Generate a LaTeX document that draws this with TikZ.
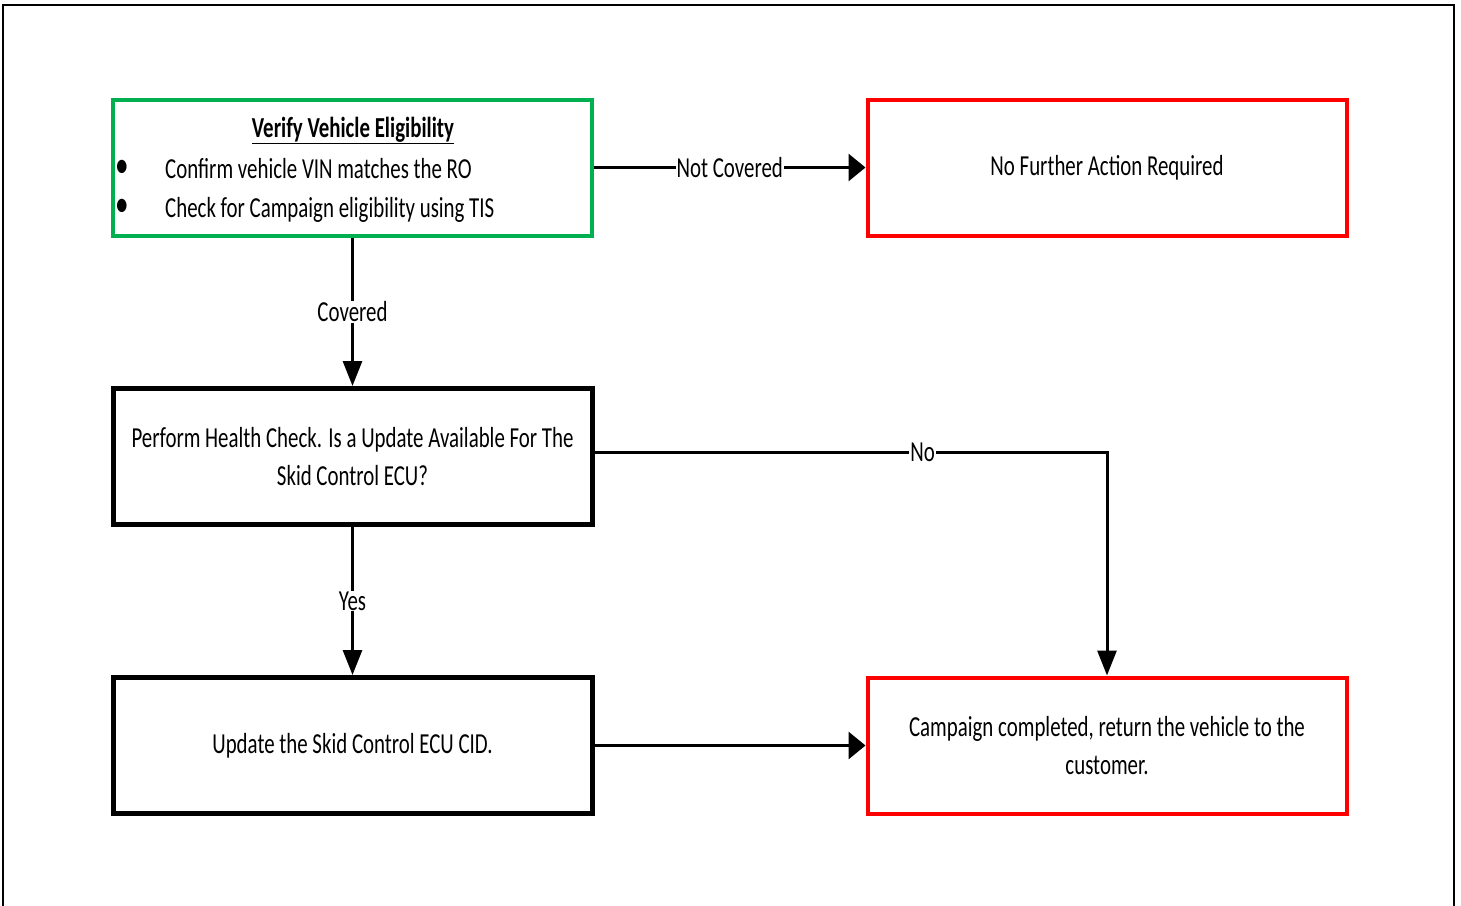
\documentclass[tikz,border=0pt]{standalone}
\usepackage{fontspec}
\setmainfont[FakeStretch=0.72]{Carlito}
\usetikzlibrary{arrows.meta}
\definecolor{boxgreen}{RGB}{0,176,80}
\definecolor{boxred}{RGB}{255,0,0}
\tikzset{
  box/.style={draw, line width=5pt, minimum width=479pt, minimum height=136pt, inner sep=0pt, align=center, font=\fontsize{29}{38}\selectfont},
  greenbox/.style={box, draw=boxgreen, line width=4pt},
  redbox/.style={box, draw=boxred, line width=4pt},
  hconn/.style={line width=3pt, -{Triangle[length=17pt,width=27pt]}},
  vconn/.style={line width=3pt, -{Triangle[length=25pt,width=19pt]}},
  lbl/.style={fill=white, inner sep=1pt, font=\fontsize{29}{38}\selectfont},
  txt/.style={inner sep=0pt, font=\fontsize{29}{38}\selectfont}
}
\begin{document}
\begin{tikzpicture}[x=1pt,y=-1pt]
\useasboundingbox (0,0) rectangle (1461,905);
\fill[white] (0,0) rectangle (1461,905);
\draw[line width=2.5pt] (3,915) -- (3,5) -- (1454,5) -- (1454,915);
% boxes
\node[greenbox] (verify) at (352.5,167.5) {};
\node[redbox] (nofurther) at (1107,167.5) {No Further Action Required};
\node[box] (health) at (352.5,456.5) {Perform Health Check. Is a Update Available For The\\Skid Control ECU?};
\node[box] (update) at (352.5,745.5) {Update the Skid Control ECU CID.};
\node[redbox] (done) at (1107,745.5) {Campaign completed, return the vehicle to the\\customer.};
% verify contents
\node[txt, anchor=base] (vtitle) at (353,137) {\textbf{\underline{Verify Vehicle Eligibility}}};
\node[txt, anchor=base] (b1) at (122,177) {\scalebox{1.3}{•}};
\node[txt, anchor=base] (b2) at (122,216) {\scalebox{1.3}{•}};
\node[txt, anchor=base west] (t1) at (165,178) {Confirm vehicle VIN matches the RO};
\node[txt, anchor=base west] (t2) at (165,217) {Check for Campaign eligibility using TIS};
% connectors
\draw[hconn] (verify.east) -- node[lbl, pos=0.5] {Not Covered} (nofurther.west);
\draw[vconn] (verify.south) -- node[lbl, pos=0.5] {Covered} (health.north);
\draw[vconn] (health.south) -- node[lbl, pos=0.5] {Yes} (update.north);
\draw[hconn] (update.east) -- (done.west);
\coordinate (noStart) at ([yshift=4pt]health.east);
\coordinate (corner) at (done.north |- noStart);
\draw[vconn] (noStart) -- node[lbl, pos=0.64] {No} (corner) -- (done.north);
\end{tikzpicture}
\end{document}
